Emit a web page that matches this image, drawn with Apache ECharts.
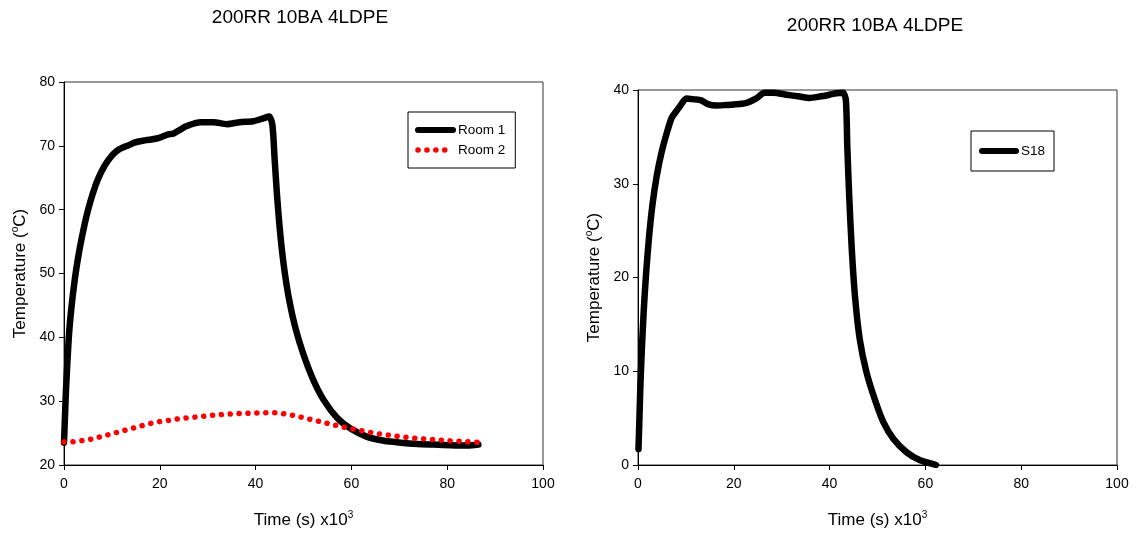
<!DOCTYPE html>
<html>
<head>
<meta charset="utf-8">
<script src="https://cdn.jsdelivr.net/npm/echarts@6/dist/echarts.min.js"></script>
<style>
html, body { margin: 0; padding: 0; background: #fff; }
#chart { width: 1136px; height: 535px; }
</style>
</head>
<body>
<div id="chart"></div>
<script>
// left panel: Room 1 / Room 2 (time in s x10^3, temperature in C)
var room1Time = [0, 0.2, 0.4, 0.7, 1.05, 1.5, 2.0, 2.6, 3.3, 4.1, 5.0, 6.0, 7.1, 8.4, 9.8, 11.0, 11.9, 13.5, 14.7, 16.5, 18.2, 20.0, 21.75, 22.8, 24.2, 25.3, 26.3, 28.4, 31.2, 34.0, 36.7, 39.5, 41.6, 42.8,
  43.5, 44.0, 44.5, 45.2, 46.0, 47.0, 48.3, 50.0, 52.0, 54.2, 57.0, 59.8, 63.3, 66.8, 70.3, 73.8, 77.3, 80.8, 84.3, 86.5];
var room1Temp = [23.5, 27.5, 31.5, 36.0, 40.5, 44.3, 47.6, 50.9, 54.0, 57.0, 59.9, 62.5, 64.8, 66.8, 68.3, 69.2, 69.6, 70.1, 70.5, 70.8, 71.0, 71.3, 71.8, 71.9, 72.5, 73.0, 73.3, 73.7, 73.7, 73.4, 73.7, 73.85, 74.3, 74.6,
  73.3, 67.6, 62.0, 55.8, 50.6, 45.9, 41.5, 37.3, 33.4, 30.2, 27.4, 25.7, 24.4, 23.8, 23.5, 23.3, 23.2, 23.1, 23.05, 23.2];

var room2Time = [0, 2, 4, 6, 8, 10, 12, 14, 16, 18, 20, 22, 24, 26, 28, 30, 32, 34, 36, 38, 40, 42, 44, 46, 48, 50, 52, 54, 56, 58, 60, 62, 64, 66, 68, 70, 72, 74, 76, 78, 80, 82, 84, 86.5];
var room2Temp = [23.6, 23.65, 23.85, 24.1, 24.5, 24.9, 25.3, 25.7, 26.1, 26.5, 26.8, 27.0, 27.25, 27.4, 27.55, 27.7, 27.85, 27.95, 28.05, 28.1, 28.15, 28.2, 28.2, 28.0, 27.75, 27.4, 27.05, 26.7, 26.35, 26.0, 25.7, 25.4, 25.1, 24.85, 24.65, 24.45, 24.3, 24.15, 24.05, 23.95, 23.8, 23.75, 23.65, 23.55];

// right panel: S18
var s18Time = [0.1, 0.3, 0.5, 0.8, 1.2, 1.7, 2.3, 3.0, 3.9, 4.9, 6.0, 7.0, 7.8, 8.8, 10.1, 11.8, 13.2, 14.6, 16.4, 18.4, 20.0, 22.5, 24.7, 26.4, 28.2, 31.0, 33.75, 35.8, 37.9, 40.0, 41.4, 42.8,
  43.4, 43.7, 44.1, 44.6, 45.3, 46.3, 47.7, 49.5, 51.2, 53.3, 56.1, 58.9, 61.6, 62.2];
var s18Temp = [1.7, 5.0, 8.5, 12.3, 16.5, 20.5, 24.3, 27.7, 30.8, 33.3, 35.4, 37.0, 37.6, 38.3, 39.1, 39.0, 38.9, 38.5, 38.35, 38.4, 38.45, 38.6, 39.1, 39.7, 39.7, 39.5, 39.3, 39.15, 39.3, 39.5, 39.65, 39.7,
  38.9, 33.9, 28.6, 23.3, 18.0, 13.4, 9.9, 6.9, 4.6, 2.8, 1.35, 0.5, 0.1, 0.0];

var xTicks = { min: 0, max: 100, interval: 20 };
var leftY = { min: 20, max: 80, interval: 10 };
var rightY = { min: 0, max: 40, interval: 10 };

var titleText = '200RR 10BA 4LDPE';
var font = 'Liberation Sans, Arial, sans-serif';

function pairs(xs, ys) {
  return xs.map(function (x, i) { return [x, ys[i]]; });
}

var nameStyle = {
  color: '#000', fontSize: 17, fontFamily: font, lineHeight: 20,
  rich: { sup: { fontSize: 10, fontFamily: font, color: '#000', lineHeight: 10, verticalAlign: 'top' } }
};

function xAxis(grid) {
  return {
    gridIndex: grid, type: 'value', min: xTicks.min, max: xTicks.max, interval: xTicks.interval,
    name: 'Time (s) x10{sup|3}', nameLocation: 'middle', nameGap: 45, nameTextStyle: nameStyle,
    axisLine: { onZero: false, lineStyle: { color: '#000', width: 1 } },
    axisTick: { show: true, length: 5, lineStyle: { color: '#000' } },
    axisLabel: { color: '#000', fontSize: 14, fontFamily: font, margin: 12 },
    splitLine: { show: false }
  };
}

function yAxis(grid, r) {
  return {
    gridIndex: grid, type: 'value', min: r.min, max: r.max, interval: r.interval,
    name: 'Temperature ({sup|o}C)', nameLocation: 'middle', nameGap: 34, nameTextStyle: nameStyle,
    axisLine: { onZero: false, lineStyle: { color: '#000', width: 1 } },
    axisTick: { show: true, length: 5, lineStyle: { color: '#000' } },
    axisLabel: { color: '#000', fontSize: 14, fontFamily: font, margin: 9 },
    splitLine: { show: false }
  };
}

var chart = echarts.init(document.getElementById('chart'));
chart.setOption({
  animation: false,
  backgroundColor: '#fff',
  title: [
    { text: titleText, left: 300, top: 8, textAlign: 'center', padding: 0,
      textStyle: { fontSize: 19, fontWeight: 'normal', color: '#000', fontFamily: font } },
    { text: titleText, left: 875, top: 16, textAlign: 'center', padding: 0,
      textStyle: { fontSize: 19, fontWeight: 'normal', color: '#000', fontFamily: font } }
  ],
  legend: [
    { left: 408, top: 112, orient: 'vertical', padding: [11, 10, 11, 7], itemGap: 6,
      itemWidth: 35, itemHeight: 14, borderColor: '#000', borderWidth: 1, selectedMode: false,
      textStyle: { fontSize: 13.5, color: '#000', fontFamily: font },
      itemStyle: { opacity: 0 },
      data: [
        { name: 'Room 1', lineStyle: { width: 6, color: '#000', cap: 'round' } },
        { name: 'Room 2', lineStyle: { width: 5.5, color: '#ff0000', type: [0.1, 8.8], cap: 'round' } }
      ] },
    { left: 971, top: 131, orient: 'vertical', padding: [13, 9, 13, 8],
      itemWidth: 34, itemHeight: 14, borderColor: '#000', borderWidth: 1, selectedMode: false,
      textStyle: { fontSize: 13.5, color: '#000', fontFamily: font },
      itemStyle: { opacity: 0 },
      data: [
        { name: 'S18', lineStyle: { width: 6, color: '#000', cap: 'round' } }
      ] }
  ],
  grid: [
    { left: 64, top: 82, width: 479, height: 384, show: true, borderColor: '#333', borderWidth: 1, backgroundColor: 'transparent' },
    { left: 638, top: 90, width: 479, height: 376, show: true, borderColor: '#333', borderWidth: 1, backgroundColor: 'transparent' }
  ],
  xAxis: [xAxis(0), xAxis(1)],
  yAxis: [yAxis(0, leftY), yAxis(1, rightY)],
  series: [
    { name: 'Room 1', type: 'line', xAxisIndex: 0, yAxisIndex: 0, data: pairs(room1Time, room1Temp),
      symbol: 'none', smooth: 0.25,
      lineStyle: { color: '#000', width: 6.5, cap: 'round', join: 'round' }, itemStyle: { color: '#000' } },
    { name: 'Room 2', type: 'line', xAxisIndex: 0, yAxisIndex: 0, data: pairs(room2Time, room2Temp),
      symbol: 'none', smooth: 0.3,
      lineStyle: { color: '#ff0000', width: 5.5, type: [0.1, 8.8], cap: 'round', join: 'round' }, itemStyle: { color: '#ff0000' } },
    { name: 'S18', type: 'line', xAxisIndex: 1, yAxisIndex: 1, data: pairs(s18Time, s18Temp),
      symbol: 'none', smooth: 0.25,
      lineStyle: { color: '#000', width: 6.5, cap: 'round', join: 'round' }, itemStyle: { color: '#000' } }
  ]
});
</script>
</body>
</html>
